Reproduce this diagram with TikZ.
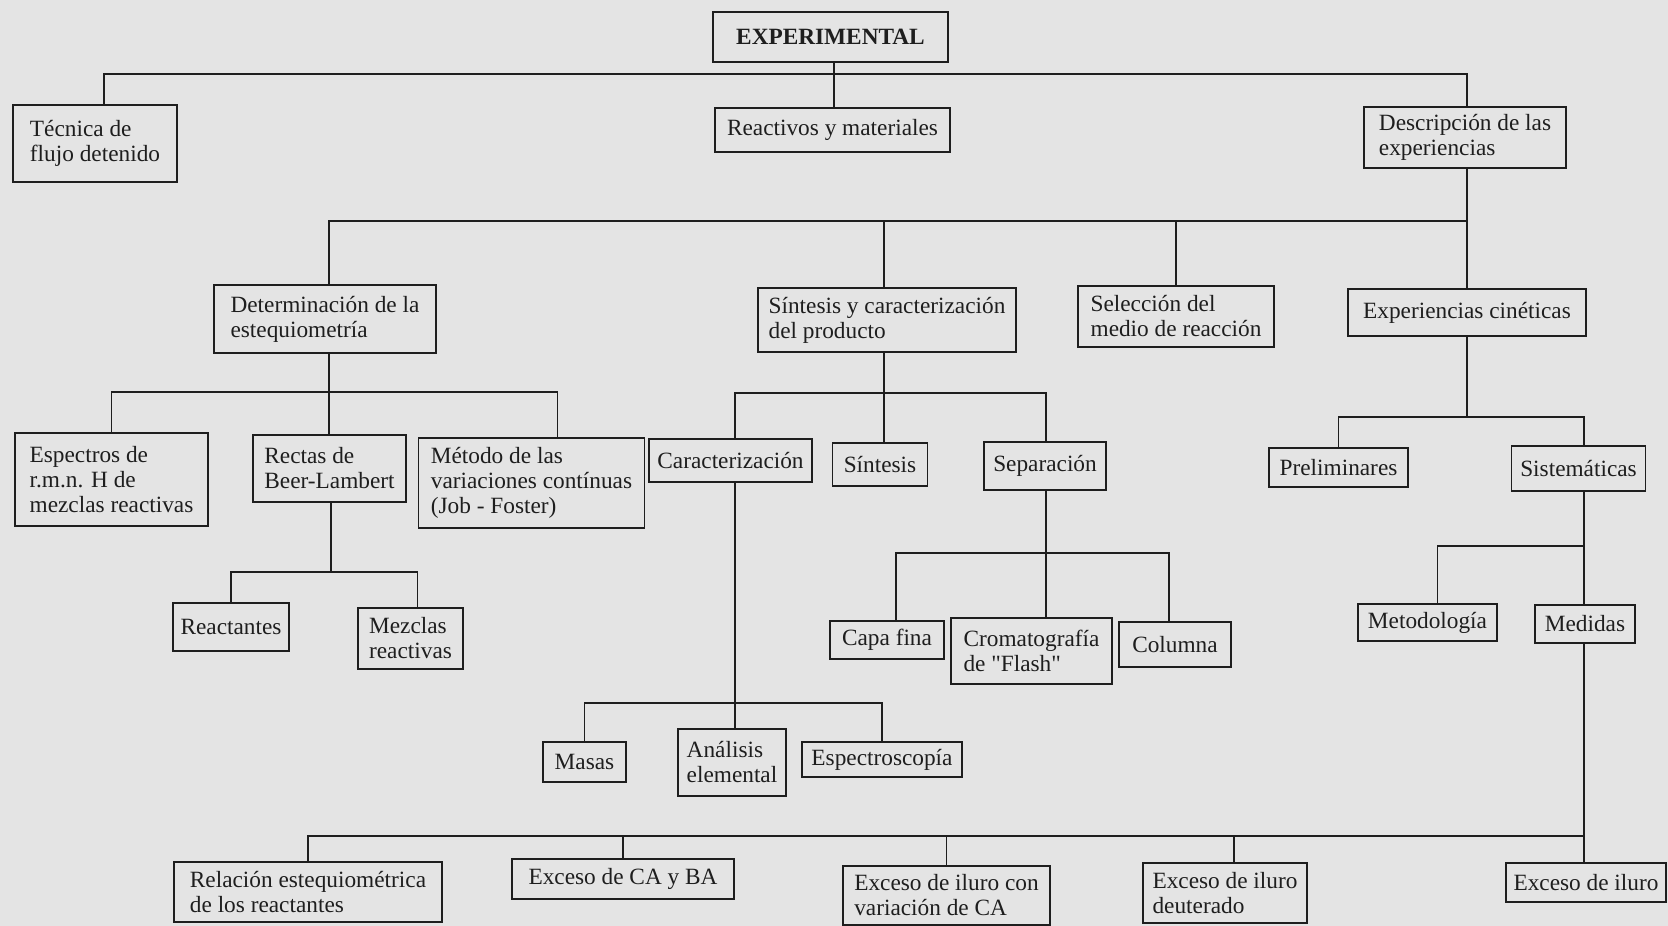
\documentclass[tikz,border=0pt]{standalone}
\usepackage{fontspec}
\setmainfont{Liberation Serif}
\definecolor{papel}{RGB}{228,228,228}
\definecolor{tinta}{RGB}{30,30,30}
\begin{document}
\begin{tikzpicture}[x=1pt,y=-1pt,
  caja/.style={draw=tinta,line width=1.8pt,align=left,inner sep=0pt,text=tinta,
    font=\fontsize{23.3}{25}\selectfont},
  tam/.style 2 args={minimum width=#1pt,minimum height=#2pt},
  linea/.style={draw=tinta,line width=1.8pt}]
  \fill[papel] (0,0) rectangle (1668,926);
  \useasboundingbox (0,0) rectangle (1668,926);

  \node[caja,tam={235}{50}] (exp) at (830.5,37) {\textbf{EXPERIMENTAL}};
  \node[caja,tam={164}{77}] (tecnica) at (95,143.5) {Técnica de\\flujo detenido};
  \node[caja,tam={235}{44}] (reactivos) at (832.5,130) {Reactivos y materiales};
  \node[caja,tam={202}{61}] (descripcion) at (1465,137.5) {Descripción de las\\experiencias};

  \node[caja,tam={222}{68}] (determ) at (325,319) {Determinación de la\\estequiometría};
  \node[caja,tam={258}{64}] (sintcar) at (887,320) {Síntesis y caracterización\\del producto};
  \node[caja,tam={196}{61}] (seleccion) at (1176,316.5) {Selección del\\medio de reacción};
  \node[caja,tam={238}{47}] (expcin) at (1467,312.5) {Experiencias cinéticas};

  \node[caja,tam={193}{93}] (espectros) at (111.5,479.5) {Espectros de\\r.m.n. H de\\mezclas reactivas};
  \node[caja,tam={153}{67}] (rectas) at (329.5,468.5) {Rectas de\\Beer-Lambert};
  \node[caja,tam={226}{90}] (metodo) at (531.5,483) {Método de las\\variaciones contínuas\\(Job - Foster)};
  \node[caja,tam={163}{43}] (caract) at (730.5,460.5) {Caracterización};
  \node[caja,tam={95}{43}] (sintesis) at (880,464.5) {Síntesis};
  \node[caja,tam={122}{48}] (separ) at (1045,466) {Separación};
  \node[caja,tam={139}{39}] (prelim) at (1338.5,467.5) {Preliminares};
  \node[caja,tam={134}{45}] (sistem) at (1578.5,468.5) {Sistemáticas};

  \node[caja,tam={116}{48}] (reactantes) at (231,627) {Reactantes};
  \node[caja,tam={105}{61}] (mezclas) at (410.5,638.5) {Mezclas\\reactivas};
  \node[caja,tam={114}{38}] (capa) at (887,640) {Capa fina};
  \node[caja,tam={161}{66}] (croma) at (1031.5,651) {Cromatografía\\de \textquotedbl Flash\textquotedbl};
  \node[caja,tam={112}{45}] (columna) at (1175,644.5) {Columna};
  \node[caja,tam={139}{37}] (metodol) at (1427.5,622.5) {Metodología};
  \node[caja,tam={100}{38}] (medidas) at (1585,624) {Medidas};

  \node[caja,tam={83}{40}] (masas) at (584.5,762) {Masas};
  \node[caja,tam={108}{67}] (analisis) at (732,762.5) {Análisis\\elemental};
  \node[caja,tam={160}{35}] (espectrosc) at (882,759.5) {Espectroscopía};

  \node[caja,tam={268}{60}] (relacion) at (308,892) {Relación estequiométrica\\de los reactantes};
  \node[caja,tam={222}{40}] (excesoca) at (623,879) {Exceso de CA y BA};
  \node[caja,tam={207}{59}] (excesovar) at (946.5,895.5) {Exceso de iluro con\\variación de CA};
  \node[caja,tam={164}{60}] (excesodeut) at (1225,893) {Exceso de iluro\\deuterado};
  \node[caja,tam={160}{39}] (excesoil) at (1586,882.5) {Exceso de iluro};

  \coordinate (bus1) at (834,74);
  \coordinate (bus2) at (884,221);
  \coordinate (bus3) at (329,392);
  \coordinate (bus4) at (331,572);
  \coordinate (bus5) at (884,393);
  \coordinate (bus6) at (1046,553);
  \coordinate (bus7) at (1467,417);
  \coordinate (bus8) at (1584,546);
  \coordinate (bus9) at (735,703);
  \coordinate (bus10) at (1584,836);

  \draw[linea] (exp.south -| bus1) -- (reactivos.north -| bus1);
  \draw[linea] ([xshift=9pt]tecnica.north) |- (bus1) -| (expcin.north |- descripcion.north);
  \draw[linea] (descripcion.south -| expcin.north) -- (expcin.north);
  \draw[linea] (determ.north -| bus3) |- (bus2) -| (expcin.north);
  \draw[linea] (sintcar.north -| bus2) -- (bus2);
  \draw[linea] (seleccion.north) -- (seleccion.north |- bus2);

  \draw[linea] (determ.south -| bus3) -- (rectas.north -| bus3);
  \draw[linea] (espectros.north) |- (bus3) -| ([xshift=26pt]metodo.north);
  \draw[linea] (rectas.south -| bus4) -- (bus4);
  \draw[linea] (reactantes.north) |- (bus4) -| ([xshift=7pt]mezclas.north);

  \draw[linea] (sintcar.south -| bus5) -- (sintesis.north -| bus5);
  \draw[linea] (caract.north -| bus9) |- (bus5) -| (separ.north -| bus6);
  \draw[linea] (separ.south -| bus6) -- (croma.north -| bus6);
  \draw[linea] ([xshift=9pt]capa.north) |- (bus6) -| ([xshift=-6pt]columna.north);

  \draw[linea] (expcin.south) -- (bus7);
  \draw[linea] (prelim.north) |- (bus7) -| (sistem.north -| bus8);
  \draw[linea] (sistem.south -| bus8) -- (medidas.north -| bus8);
  \draw[linea] ([xshift=10pt]metodol.north) |- (bus8);

  \draw[linea] (caract.south -| bus9) -- (analisis.north -| bus9);
  \draw[linea] (masas.north) |- (bus9) -| (espectrosc.north);

  \draw[linea] (medidas.south -| bus10) -- (excesoil.north -| bus10);
  \draw[linea] (relacion.north) |- (bus10);
  \draw[linea] (excesoca.north) -- (excesoca.north |- bus10);
  \draw[linea] (excesovar.north) -- (excesovar.north |- bus10);
  \draw[linea] ([xshift=9pt]excesodeut.north) -- ([xshift=9pt]excesodeut.north |- bus10);
\end{tikzpicture}
\end{document}
